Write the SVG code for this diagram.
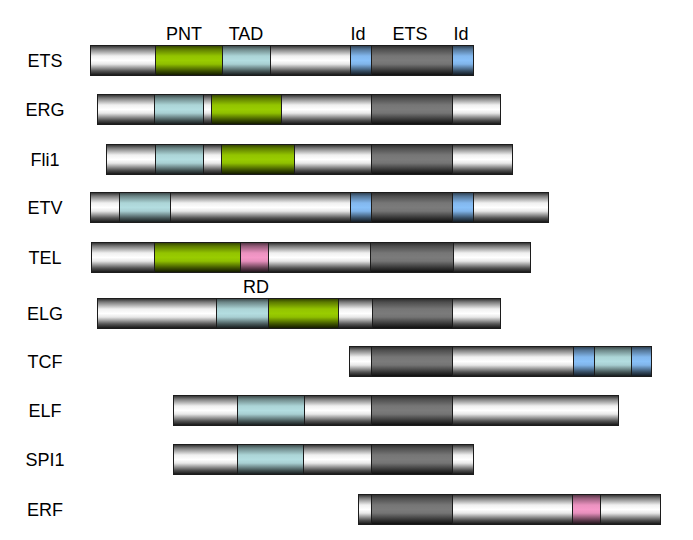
<svg xmlns="http://www.w3.org/2000/svg" width="693" height="540" viewBox="0 0 693 540">
<defs>
<linearGradient id="gw" x1="0" y1="0" x2="0" y2="1">
<stop offset="0" stop-color="#2a2a2a"/><stop offset="0.12" stop-color="#7a7a7a"/><stop offset="0.35" stop-color="#f0f0f0"/><stop offset="0.5" stop-color="#ffffff"/><stop offset="0.62" stop-color="#e8e8e8"/><stop offset="0.85" stop-color="#555555"/><stop offset="1" stop-color="#111111"/>
</linearGradient>
<linearGradient id="gg" x1="0" y1="0" x2="0" y2="1">
<stop offset="0" stop-color="#2e3d00"/><stop offset="0.12" stop-color="#5c7a00"/><stop offset="0.35" stop-color="#93c400"/><stop offset="0.5" stop-color="#99cc00"/><stop offset="0.62" stop-color="#8fbf00"/><stop offset="0.85" stop-color="#3d5200"/><stop offset="1" stop-color="#0f1400"/>
</linearGradient>
<linearGradient id="gt" x1="0" y1="0" x2="0" y2="1">
<stop offset="0" stop-color="#364243"/><stop offset="0.12" stop-color="#6b8586"/><stop offset="0.35" stop-color="#acd5d7"/><stop offset="0.5" stop-color="#b3dde0"/><stop offset="0.62" stop-color="#a8cfd2"/><stop offset="0.85" stop-color="#475859"/><stop offset="1" stop-color="#121617"/>
</linearGradient>
<linearGradient id="gb" x1="0" y1="0" x2="0" y2="1">
<stop offset="0" stop-color="#293a4a"/><stop offset="0.12" stop-color="#527394"/><stop offset="0.35" stop-color="#83b8ee"/><stop offset="0.5" stop-color="#88c0f8"/><stop offset="0.62" stop-color="#80b4e9"/><stop offset="0.85" stop-color="#364d63"/><stop offset="1" stop-color="#0e1319"/>
</linearGradient>
<linearGradient id="gp" x1="0" y1="0" x2="0" y2="1">
<stop offset="0" stop-color="#4a2e3c"/><stop offset="0.12" stop-color="#935b78"/><stop offset="0.35" stop-color="#eb92c0"/><stop offset="0.5" stop-color="#f598c8"/><stop offset="0.62" stop-color="#e68fbc"/><stop offset="0.85" stop-color="#623d50"/><stop offset="1" stop-color="#181014"/>
</linearGradient>
<linearGradient id="gd" x1="0" y1="0" x2="0" y2="1">
<stop offset="0" stop-color="#2a2a2a"/><stop offset="0.12" stop-color="#4d4d4d"/><stop offset="0.35" stop-color="#767676"/><stop offset="0.5" stop-color="#7b7b7b"/><stop offset="0.62" stop-color="#747474"/><stop offset="0.85" stop-color="#333333"/><stop offset="1" stop-color="#0c0c0c"/>
</linearGradient>
</defs>
<style>
rect{stroke:#1c1c1c;stroke-width:1}
.w{fill:url(#gw)} .g{fill:url(#gg)} .t{fill:url(#gt)} .b{fill:url(#gb)} .p{fill:url(#gp)} .d{fill:url(#gd)}
text{font-family:"Liberation Sans",Arial,sans-serif;font-size:18px;fill:#000;text-anchor:middle}
</style>
<g id="header">
<text x="184" y="40">PNT</text>
<text x="246" y="40">TAD</text>
<text x="358" y="40">Id</text>
<text x="410" y="40">ETS</text>
<text x="461" y="40">Id</text>
</g>
<g id="row-ETS">
<text x="45" y="67">ETS</text>
<rect class="w" x="90.5" y="45.5" width="65" height="30"/>
<rect class="g" x="155.5" y="45.5" width="67" height="30"/>
<rect class="t" x="222.5" y="45.5" width="48" height="30"/>
<rect class="w" x="270.5" y="45.5" width="80" height="30"/>
<rect class="b" x="350.5" y="45.5" width="21" height="30"/>
<rect class="d" x="371.5" y="45.5" width="81" height="30"/>
<rect class="b" x="452.5" y="45.5" width="21" height="30"/>
</g>
<g id="row-ERG">
<text x="45" y="116">ERG</text>
<rect class="w" x="97.5" y="94.5" width="57" height="30"/>
<rect class="t" x="154.5" y="94.5" width="49" height="30"/>
<rect class="w" x="203.5" y="94.5" width="8" height="30"/>
<rect class="g" x="211.5" y="94.5" width="70" height="30"/>
<rect class="w" x="281.5" y="94.5" width="90" height="30"/>
<rect class="d" x="371.5" y="94.5" width="81" height="30"/>
<rect class="w" x="452.5" y="94.5" width="48" height="30"/>
</g>
<g id="row-Fli1">
<text x="45" y="166">Fli1</text>
<rect class="w" x="106.5" y="144.5" width="49" height="30"/>
<rect class="t" x="155.5" y="144.5" width="48" height="30"/>
<rect class="w" x="203.5" y="144.5" width="18" height="30"/>
<rect class="g" x="221.5" y="144.5" width="73" height="30"/>
<rect class="w" x="294.5" y="144.5" width="77" height="30"/>
<rect class="d" x="371.5" y="144.5" width="81" height="30"/>
<rect class="w" x="452.5" y="144.5" width="60" height="30"/>
</g>
<g id="row-ETV">
<text x="45" y="214">ETV</text>
<rect class="w" x="90.5" y="192.5" width="29" height="30"/>
<rect class="t" x="119.5" y="192.5" width="51" height="30"/>
<rect class="w" x="170.5" y="192.5" width="180" height="30"/>
<rect class="b" x="350.5" y="192.5" width="21" height="30"/>
<rect class="d" x="371.5" y="192.5" width="81" height="30"/>
<rect class="b" x="452.5" y="192.5" width="21" height="30"/>
<rect class="w" x="473.5" y="192.5" width="75" height="30"/>
</g>
<g id="row-TEL">
<text x="45" y="264">TEL</text>
<rect class="w" x="91.5" y="242.5" width="63" height="30"/>
<rect class="g" x="154.5" y="242.5" width="86" height="30"/>
<rect class="p" x="240.5" y="242.5" width="28" height="30"/>
<rect class="w" x="268.5" y="242.5" width="102" height="30"/>
<rect class="d" x="370.5" y="242.5" width="83" height="30"/>
<rect class="w" x="453.5" y="242.5" width="77" height="30"/>
<text x="256" y="293">RD</text>
</g>
<g id="row-ELG">
<text x="45" y="320">ELG</text>
<rect class="w" x="97.5" y="298.5" width="119" height="30"/>
<rect class="t" x="216.5" y="298.5" width="52" height="30"/>
<rect class="g" x="268.5" y="298.5" width="70" height="30"/>
<rect class="w" x="338.5" y="298.5" width="34" height="30"/>
<rect class="d" x="372.5" y="298.5" width="80" height="30"/>
<rect class="w" x="452.5" y="298.5" width="48" height="30"/>
</g>
<g id="row-TCF">
<text x="45" y="368">TCF</text>
<rect class="w" x="349.5" y="346.5" width="22" height="30"/>
<rect class="d" x="371.5" y="346.5" width="81" height="30"/>
<rect class="w" x="452.5" y="346.5" width="121" height="30"/>
<rect class="b" x="573.5" y="346.5" width="21" height="30"/>
<rect class="t" x="594.5" y="346.5" width="37" height="30"/>
<rect class="b" x="631.5" y="346.5" width="20" height="30"/>
</g>
<g id="row-ELF">
<text x="45" y="417">ELF</text>
<rect class="w" x="173.5" y="395.5" width="64" height="30"/>
<rect class="t" x="237.5" y="395.5" width="67" height="30"/>
<rect class="w" x="304.5" y="395.5" width="67" height="30"/>
<rect class="d" x="371.5" y="395.5" width="81" height="30"/>
<rect class="w" x="452.5" y="395.5" width="166" height="30"/>
</g>
<g id="row-SPI1">
<text x="45" y="466">SPI1</text>
<rect class="w" x="173.5" y="444.5" width="64" height="30"/>
<rect class="t" x="237.5" y="444.5" width="66" height="30"/>
<rect class="w" x="303.5" y="444.5" width="68" height="30"/>
<rect class="d" x="371.5" y="444.5" width="81" height="30"/>
<rect class="w" x="452.5" y="444.5" width="21" height="30"/>
</g>
<g id="row-ERF">
<text x="45" y="516">ERF</text>
<rect class="w" x="358.5" y="494.5" width="13" height="30"/>
<rect class="d" x="371.5" y="494.5" width="81" height="30"/>
<rect class="w" x="452.5" y="494.5" width="120" height="30"/>
<rect class="p" x="572.5" y="494.5" width="28" height="30"/>
<rect class="w" x="600.5" y="494.5" width="60" height="30"/>
</g>
<g id="connectors"/>
</svg>
